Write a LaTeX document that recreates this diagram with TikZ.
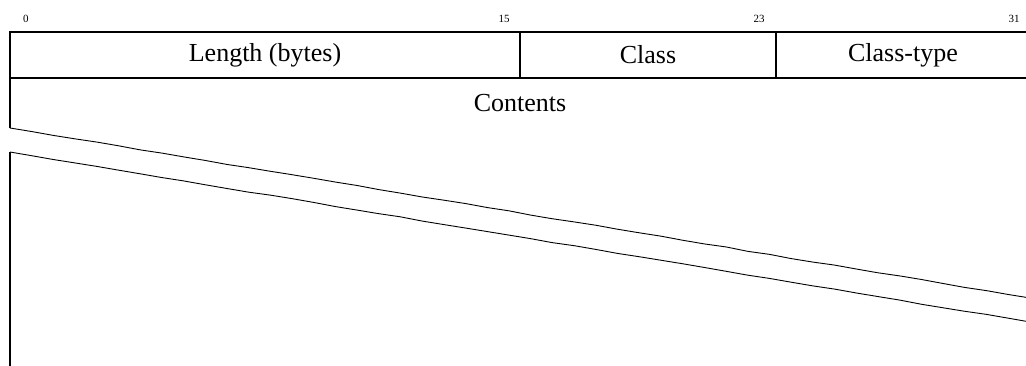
\documentclass[tikz,border=0pt]{standalone}
\usepackage{fontspec}
\setmainfont{Liberation Serif}
\usetikzlibrary{positioning,decorations.pathmorphing}
\begin{document}
\begin{tikzpicture}[x=1pt,y=-1pt,
    field/.style={draw,line width=1.6pt,outer sep=0pt,inner sep=0pt,minimum height=46pt,font=\fontsize{26}{30}\selectfont},
    bitno/.style={inner sep=0pt,font=\fontsize{11}{13}\selectfont},
    cut/.style={line width=.9pt,decorate,decoration={random steps,segment length=22pt,amplitude=.4pt}}]
\useasboundingbox (0,0) rectangle (1026,365);
\clip (0,0) rectangle (1026,365);
\pgfmathsetseed{7}
    % header row
    \node[field,minimum width=510pt,anchor=north west](len) at (10,32){Length (bytes)};
    \node[field,minimum width=256pt,right=0pt of len](cls){Class};
    \node[field,minimum width=254pt,right=0pt of cls](ctype){Class-type};
    \foreach \b in {0,15,23,31}
        \node[bitno](bit\b) at (10+\b*31.875+16,19){\b};
    % contents
    \node[font=\fontsize{26}{30}\selectfont](cont) at (520,103){Contents};
    \coordinate (la) at (10,128);
    \coordinate (lb) at (10,152);
    \coordinate (ra) at (1030,298);
    \coordinate (rb) at (1030,322);
    \coordinate (bot) at (10,366);
    \draw[line width=1.6pt](len.south west)--(la);
    \draw[line width=1.6pt](lb)--(bot);
    \draw[cut](la)--(ra);
    \draw[cut](lb)--(rb);
\end{tikzpicture}
\end{document}
